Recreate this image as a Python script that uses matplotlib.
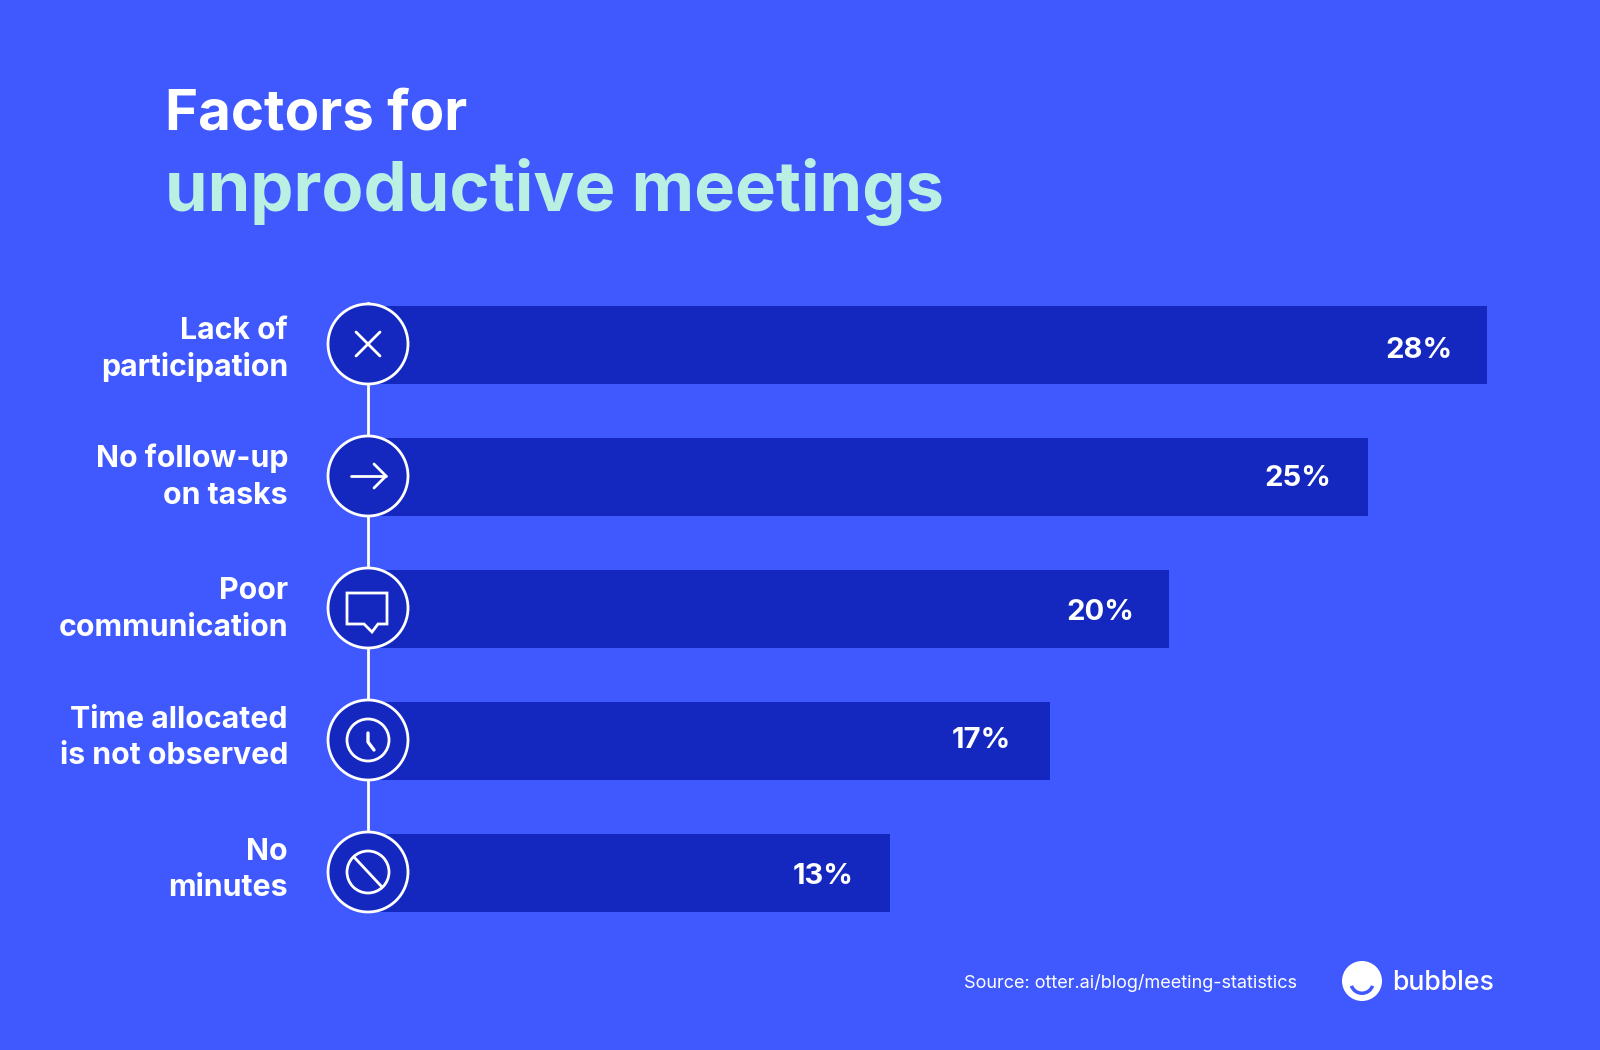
import matplotlib
matplotlib.use('Agg')
import matplotlib.pyplot as plt
from matplotlib.patches import Circle, Polygon, Wedge

plt.rcParams['font.family'] = ['Inter', 'DejaVu Sans']

labels = [['Lack of', 'participation'], ['No follow-up', 'on tasks'], ['Poor', 'communication'],
          ['Time allocated', 'is not observed'], ['No', 'minutes']]
values = [28, 25, 20, 17, 13]
value_labels = ['28%', '25%', '20%', '17%', '13%']

BG = '#4059FF'
BAR = '#1427BE'
MINT = '#B9F0E3'
W, H = 1600, 1050

fig = plt.figure(figsize=(16, 10.5), dpi=100, facecolor=BG)

# bars axes: 0% sits at x=373, each percent is 39.8 px
ax = fig.add_axes([373 / W, 0, 39.8 * 30 / W, 1])
ax.set_xlim(0, 30)
ax.set_ylim(H, 0)
ax.axis('off')
centers = [344, 476, 608, 740, 872]
ax.barh([c + 0.5 for c in centers], values, height=78, color=BAR, linewidth=0)
offsets = [35, 37, 35, 39, 37]
value_y = [351, 478, 613, 741, 877]
for y, v, s, o in zip(value_y, values, value_labels, offsets):
    ax.annotate(s, (v, y), xytext=(-o * 0.72, 0), textcoords='offset points', ha='right',
                va='center', color='white', fontsize=21, fontweight='bold')

# overlay in pixels for title, circles and icons
ov = fig.add_axes([0, 0, 1, 1])
ov.set_xlim(0, W)
ov.set_ylim(H, 0)
ov.axis('off')
ov.patch.set_alpha(0)

ov.text(165, 114, 'Factors for', color='white', fontsize=40.6, fontweight='bold', va='center')
ov.text(165, 192, 'unproductive meetings', color=MINT, fontsize=49.4, fontweight='bold', va='center')

cx = 368
lw = 2.0
ov.plot([cx, cx], [centers[0] - 41, centers[-1]], color='white', lw=lw, zorder=2)
label_base = [339, 467, 599, 728, 860]
for y, b, lab in zip(centers, label_base, labels):
    ov.add_patch(Circle((cx, y), 40, fc=BAR, ec='white', lw=lw, zorder=3))
    for i, line in enumerate(lab):
        ov.text(288, b + i * 36.5, line, color='white', fontsize=21.8, fontweight='bold',
                ha='right', va='baseline')


def stroke(xs, ys, w=lw):
    ov.plot(xs, ys, color='white', lw=w, zorder=4, solid_capstyle='round', solid_joinstyle='round')


# x
y = centers[0]
stroke([cx - 12, cx + 12], [y - 12, y + 12])
stroke([cx - 12, cx + 12], [y + 12, y - 12])
# arrow
y = centers[1]
stroke([cx - 17, cx + 18], [y, y])
stroke([cx + 6, cx + 18, cx + 6], [y - 12, y, y + 12])
# speech bubble
y = centers[2]
ov.add_patch(Polygon([(cx - 21, y - 15), (cx + 19, y - 15), (cx + 19, y + 16), (cx + 10, y + 16),
                      (cx + 4, y + 24), (cx - 4, y + 16), (cx - 21, y + 16)],
                     closed=True, fc='none', ec='white', lw=lw, zorder=4))
# clock
y = centers[3]
ov.add_patch(Circle((cx, y), 21, fc='none', ec='white', lw=lw, zorder=4))
stroke([cx, cx, cx + 6], [y - 7, y + 2, y + 10], w=2.4)
# no sign
y = centers[4]
ov.add_patch(Circle((cx, y), 21, fc='none', ec='white', lw=lw, zorder=4))
stroke([cx - 14, cx + 14], [y - 15, y + 15])

# footer
ov.text(964, 983, 'Source: otter.ai/blog/meeting-statistics', color='white', fontsize=13.05, va='center')
ov.add_patch(Circle((1362, 981), 20, fc='white', ec='none'))
ov.add_patch(Wedge((1362, 982), 13, 20, 160, width=3.5, fc=BG, ec='none', zorder=4))
ov.text(1392, 983, 'bubbles', color='white', fontsize=19.2, fontweight='medium', va='center')

fig.savefig('out.png', dpi=100, facecolor=BG)
